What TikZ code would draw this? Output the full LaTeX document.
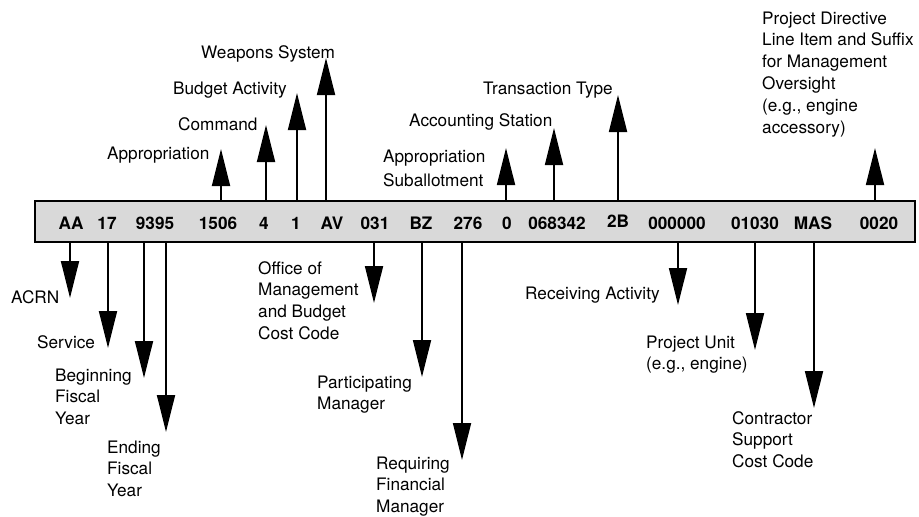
\documentclass[tikz,border=0pt]{standalone}
\usepackage{fontspec}
\setmainfont{TeX Gyre Heros}
\usetikzlibrary{arrows.meta}
\begin{document}
\begin{tikzpicture}[x=1pt,y=-1pt,
  lbl/.style={anchor=base west, inner sep=0pt, align=left, font=\fontsize{17.2}{21.8}\selectfont},
  code/.style={anchor=base, inner sep=0pt, font=\fontsize{17.2}{20}\selectfont\bfseries},
  arr/.style={line width=1.8pt, -{Triangle[width=18pt,length=37pt]}},
  codebox/.style={draw, line width=2.2pt, fill=black!15, minimum width=880pt, minimum height=41pt, inner sep=0pt}]
\useasboundingbox (0,0) rectangle (919,517);
% code bar
\node[codebox] (box) at (475,221.5) {};
\node[code] (cAA) at (71,229) {AA};
\node[code] (c17) at (107,229) {17};
\node[code] (c9395) at (155,229) {9395};
\node[code] (c1506) at (218,229) {1506};
\node[code] (c4) at (264,229) {4};
\node[code] (c1) at (296,229) {1};
\node[code] (cAV) at (332,229) {AV};
\node[code] (c031) at (375,229) {031};
\node[code] (cBZ) at (421,229) {BZ};
\node[code] (c276) at (468,229) {276};
\node[code] (c0) at (507,229) {0};
\node[code] (c068342) at (557,229) {068342};
\node[code] (c2B) at (618,227) {2B};
\node[code] (c000000) at (677,229) {000000};
\node[code] (c01030) at (755,229) {01030};
\node[code] (cMAS) at (813,229) {MAS};
\node[code] (c0020) at (879,229) {0020};
% labels above (base = baseline of last line)
\node[lbl] (weap) at (201,58) {Weapons System};
\node[lbl] (budg) at (173,94) {Budget Activity};
\node[lbl] (comm) at (178,130) {Command};
\node[lbl] (appr) at (107,159) {Appropriation};
\node[lbl, font=\fontsize{17.2}{24}\selectfont] (subal) at (383,186) {Appropriation\\Suballotment};
\node[lbl] (acct) at (409,126) {Accounting Station};
\node[lbl] (trans) at (483,94) {Transaction Type};
\node[lbl] (pdir) at (762,133) {Project Directive\\Line Item and Suffix\\for Management\\Oversight\\(e.g., engine\\accessory)};
% labels below
\node[lbl] (acrn) at (11,303) {ACRN};
\node[lbl] (serv) at (37,348) {Service};
\node[lbl] (bfy) at (55,424.6) {Beginning\\Fiscal\\Year};
\node[lbl] (efy) at (107,496.6) {Ending\\Fiscal\\Year};
\node[lbl] (omb) at (258,339.4) {Office of\\Management\\and Budget\\Cost Code};
\node[lbl] (part) at (317,409.8) {Participating\\Manager};
\node[lbl] (reqf) at (376,512.6) {Requiring\\Financial\\Manager};
\node[lbl] (recv) at (525,299) {Receiving Activity};
\node[lbl] (punit) at (646,369.8) {Project Unit\\(e.g., engine)};
\node[lbl] (contr) at (732,467.6) {Contractor\\Support\\Cost Code};
% arrow tips
\coordinate (tAppr) at (221,149);
\coordinate (tComm) at (266,125);
\coordinate (tBudg) at (297,93);
\coordinate (tWeap) at (326,58);
\coordinate (tSubal) at (506,148);
\coordinate (tAcct) at (554,128);
\coordinate (tTrans) at (618,95);
\coordinate (tPdir) at (875,148);
\coordinate (tAcrn) at (70,298);
\coordinate (tServ) at (108,348);
\coordinate (tBfy) at (144,378);
\coordinate (tEfy) at (166,432);
\coordinate (tOmb) at (374,303);
\coordinate (tPart) at (422,377);
\coordinate (tReqf) at (462,460);
\coordinate (tRecv) at (678,305);
\coordinate (tPunit) at (755,350);
\coordinate (tContr) at (814,408);
% up arrows
\foreach \t in {tAppr,tComm,tBudg,tWeap,tSubal,tAcct,tTrans,tPdir}
  \draw[arr] (\t |- box.north) -- (\t);
% down arrows
\foreach \t in {tAcrn,tServ,tBfy,tEfy,tOmb,tPart,tReqf,tRecv,tPunit,tContr}
  \draw[arr] (\t |- box.south) -- (\t);
\end{tikzpicture}
\end{document}
